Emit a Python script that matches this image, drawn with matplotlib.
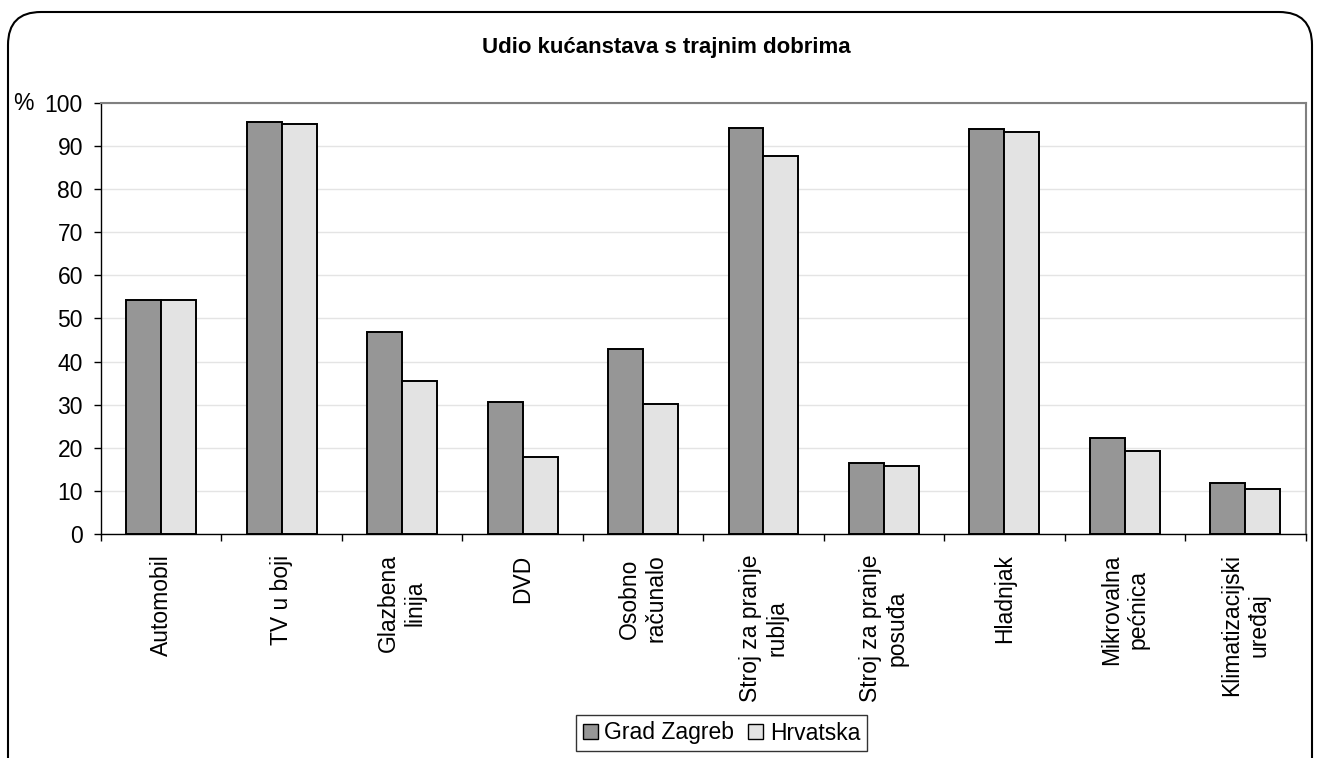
import matplotlib
matplotlib.use("Agg")
import matplotlib.pyplot as plt
import numpy as np
from matplotlib.patches import FancyBboxPatch, Patch

plt.rcParams['font.family'] = ['Liberation Sans', 'DejaVu Sans']

categories = ["Automobil", "TV u boji", "Glazbena\nlinija", "DVD", "Osobno\nračunalo",
              "Stroj za pranje\nrublja", "Stroj za pranje\nposuđa", "Hladnjak",
              "Mikrovalna\npećnica", "Klimatizacijski\nuređaj"]
zagreb = [54.3, 95.5, 46.8, 30.7, 42.9, 94.2, 16.6, 93.8, 22.4, 11.8]
hrvatska = [54.3, 95.1, 35.5, 18.0, 30.2, 87.6, 15.8, 93.3, 19.2, 10.5]
series_names = ["Grad Zagreb", "Hrvatska"]
yticks = [0, 10, 20, 30, 40, 50, 60, 70, 80, 90, 100]

W, H = 1317, 758
FS = 16.5
fig = plt.figure(figsize=(W / 100, H / 100), dpi=100)
ax = fig.add_axes([101 / W, 1 - 534.3 / H, (1305.5 - 101) / W, (534.3 - 102.7) / H])

x = np.arange(len(categories))
bw = 0.29
ax.bar(x - bw / 2, zagreb, width=bw, color="#969696", edgecolor="black", linewidth=1.4,
       label=series_names[0], zorder=3)
ax.bar(x + bw / 2, hrvatska, width=bw, color="#e3e3e3", edgecolor="black", linewidth=1.4,
       label=series_names[1], zorder=3)

ax.set_xlim(-0.5, len(categories) - 0.5)
ax.set_ylim(0, 100)
ax.set_yticks(yticks)
ax.set_yticklabels([str(v) for v in yticks], fontsize=FS)
ax.yaxis.grid(True, color="#e4e4e4", linewidth=1.0, zorder=0)
ax.set_axisbelow(True)

# category boundary ticks and centered labels
ax.set_xticks(np.arange(-0.5, len(categories), 1.0))
ax.set_xticklabels([])
ax.set_xticks(x, minor=True)
ax.set_xticklabels(categories, minor=True, rotation=90, fontsize=FS,
                   ha="center", va="top", multialignment="center")
ax.tick_params(axis="x", which="minor", length=0, pad=14.5)
ax.tick_params(axis="x", which="major", length=5, width=1, direction="out", color="black")
ax.tick_params(axis="y", length=5, width=1, direction="out", color="black", pad=8)

for s in ["top", "right"]:
    ax.spines[s].set_color("#808080")
    ax.spines[s].set_linewidth(1.5)
for s in ["left", "bottom"]:
    ax.spines[s].set_color("black")
    ax.spines[s].set_linewidth(1.0)

fig.text(13 / W, 1 - 103 / H, "%", fontsize=FS, ha="left", va="center")
fig.text(666 / W, 1 - 47 / H, "Udio kućanstava s trajnim dobrima", fontsize=16,
         fontweight="bold", ha="center", va="center")

handles = [Patch(facecolor="#969696", edgecolor="black", linewidth=1.0),
           Patch(facecolor="#e3e3e3", edgecolor="black", linewidth=1.0)]
leg = fig.legend(handles, series_names, loc="center", bbox_to_anchor=(721.5 / W, 1 - 733 / H),
                 ncol=2, fontsize=FS, frameon=True, fancybox=False, edgecolor="black",
                 handlelength=0.65, handleheight=0.65, handletextpad=0.3, columnspacing=0.6,
                 borderpad=0.3, borderaxespad=0)
leg.get_frame().set_linewidth(1.0)

border = FancyBboxPatch((8 / W, -0.3), (1312 - 8) / W, 1.3 - 12 / H,
                        boxstyle="round,pad=0,rounding_size=0.025",
                        transform=fig.transFigure, facecolor="none", edgecolor="black",
                        linewidth=1.5, mutation_aspect=W / H, clip_on=False)
fig.patches.append(border)

fig.savefig("out.png", dpi=100)
